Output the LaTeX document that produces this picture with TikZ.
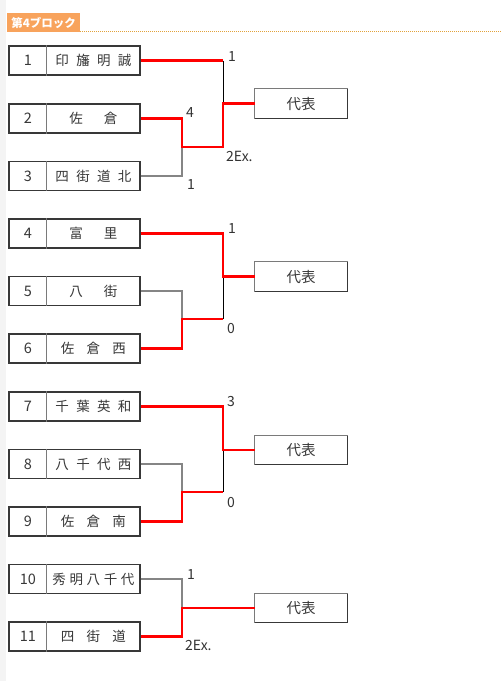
\documentclass[tikz,border=0pt]{standalone}
\usepackage{fontspec}
\setmainfont{Noto Sans CJK JP}
\definecolor{hdrfill}{HTML}{F8A35C}
\definecolor{dotc}{HTML}{E2A23C}
\definecolor{boxc}{HTML}{383838}
\definecolor{divc}{HTML}{7A7A7A}
\definecolor{losec}{HTML}{858585}
\definecolor{scorec}{HTML}{333333}
\definecolor{stripc}{HTML}{F4F4F4}
\newcommand\spr[2]{\makebox[#1]{#2}}
\newcommand\teambox[5]{%
  \node[team] (#1) at (74.5,#2) {};
  \draw[divider] ([xshift=38pt]#1.north west) -- ([xshift=38pt]#1.south west);
  \node[numtxt] (#1n) at ([xshift=19.5pt]#1.west) {#3};
  \node[nametxt] (#1t) at ([xshift=85pt]#1.west) {\spr{#4}{#5}};}
\newcommand\repbox[2]{%
  \node[rep] (#1) at (301,#2) {代表};
  \draw[repdark] (#1.south west) -- (#1.south east) -- (#1.north east);
  \draw[replight] (#1.south west) -- (#1.north west) -- (#1.north east);}
\begin{document}
\begin{tikzpicture}[x=1pt,y=-1pt,
  team/.style={draw=boxc, line width=1.1pt, minimum width=131pt, minimum height=29pt, inner sep=0pt},
  divider/.style={draw=divc, line width=1.2pt},
  numtxt/.style={inner sep=0pt, text=boxc, font=\fontsize{14.5}{15}\selectfont},
  nametxt/.style={inner sep=0pt, text=boxc, font=\fontsize{13.5}{14}\selectfont},
  rep/.style={minimum width=92pt, minimum height=29pt, inner sep=0pt, text=boxc, font=\fontsize{14.5}{15}\selectfont},
  repdark/.style={draw=boxc, line width=1.1pt, line cap=rect},
  replight/.style={draw=divc, line width=1.1pt, line cap=rect},
  win/.style={draw={rgb,255:red,255;green,0;blue,0}, line width=2.8pt},
  lose/.style={draw=losec, line width=1.3pt},
  link/.style={draw=black, line width=0.9pt},
  score/.style={inner sep=0pt, anchor=base west, text=scorec, font=\fontsize{14}{14}\selectfont}]
\useasboundingbox (0,0) rectangle (501,681);
\fill[white] (0,0) rectangle (501,681);
\fill[stripc] (0,0) rectangle (6,681);
% header
\node[fill=hdrfill, minimum width=73pt, minimum height=19pt, inner sep=0pt, anchor=north west,
  text=white, font=\bfseries\fontsize{11.5}{11.5}\selectfont] (hdr) at (7,13) {第4ブロック};
\coordinate (hdrend) at (501,31);
\draw[dotc, line width=1pt, dash pattern=on 1pt off 1pt] (hdr.south east |- hdrend) -- (hdrend);
% teams
\teambox{t1}{60.5}{1}{76pt}{印\hfill 旛\hfill 明\hfill 誠}
\teambox{t2}{118.5}{2}{48pt}{佐\hfill 倉}
\teambox{t3}{176}{3}{76pt}{四\hfill 街\hfill 道\hfill 北}
\teambox{t4}{233.5}{4}{48pt}{富\hfill 里}
\teambox{t5}{291}{5}{48pt}{八\hfill 街}
\teambox{t6}{348.5}{6}{65pt}{佐\hfill 倉\hfill 西}
\teambox{t7}{406.5}{7}{76pt}{千\hfill 葉\hfill 英\hfill 和}
\teambox{t8}{464}{8}{76pt}{八\hfill 千\hfill 代\hfill 西}
\teambox{t9}{521.5}{9}{65pt}{佐\hfill 倉\hfill 南}
\teambox{t10}{579}{10}{82pt}{秀\hfill 明\hfill 八\hfill 千\hfill 代}
\teambox{t11}{636.5}{11}{65pt}{四\hfill 街\hfill 道}
% representatives
\repbox{r1}{103.5}
\repbox{r2}{276.5}
\repbox{r3}{450}
\repbox{r4}{608}
% junctions
\coordinate (a1) at (182,147);   \coordinate (b1) at (223,103.5);
\coordinate (a2) at (182,319);   \coordinate (b2) at (223,276.5);
\coordinate (a3) at (182,492);   \coordinate (b3) at (223,450);
\coordinate (a4) at (182,608);
% block 1
\draw[lose] (t3.east) -| (a1);
\draw[link] (t1.east -| b1) -- (b1);
\draw[win] (t1.east) -- (t1.east -| b1);
\draw[win] (t2.east) -| (a1) -- (a1 -| b1) -- (b1) -- (r1.west);
% block 2
\draw[lose] (t5.east) -| (a2);
\draw[link] (a2 -| b2) -- (b2);
\draw[win] (t4.east) -| (b2) -- (r2.west);
\draw[win] (t6.east) -| (a2) -- (a2 -| b2);
% block 3
\draw[lose] (t8.east) -| (a3);
\draw[link] (a3 -| b3) -- (b3);
\draw[win] (t7.east) -| (b3) -- (r3.west);
\draw[win] (t9.east) -| (a3) -- (a3 -| b3);
% block 4
\draw[lose] (t10.east) -| (a4);
\draw[win] (t11.east) -| (a4) -- (r4.west);
% scores
\node[score] (s1) at (228,61) {1};
\node[score] (s2) at (186,117) {4};
\node[score] (s3) at (226,161) {2Ex.};
\node[score] (s4) at (187,189) {1};
\node[score] (s5) at (228,233) {1};
\node[score] (s6) at (227,333) {0};
\node[score] (s7) at (227,406) {3};
\node[score] (s8) at (227,507) {0};
\node[score] (s9) at (187,579) {1};
\node[score] (s10) at (185,650) {2Ex.};
\end{tikzpicture}
\end{document}
